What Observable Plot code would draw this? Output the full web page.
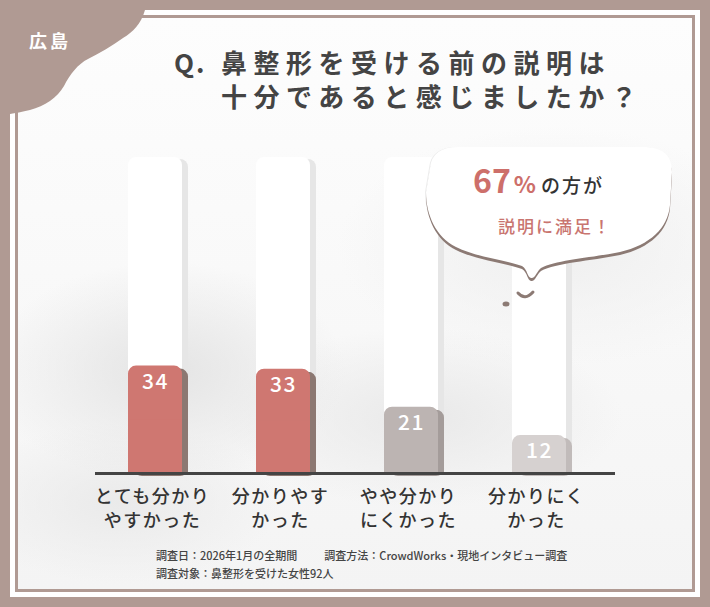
<!DOCTYPE html>
<html><head><meta charset="utf-8">
<script src="https://cdn.jsdelivr.net/npm/d3@7"></script>
<script src="https://cdn.jsdelivr.net/npm/@observablehq/plot@0.6"></script>
<style>
html,body{margin:0;padding:0;}
body{width:710px;height:607px;overflow:hidden;font-family:"Noto Sans CJK JP","Noto Sans",sans-serif;}
#wrap{position:relative;width:710px;height:607px;background:#b09a93;}
#white{position:absolute;left:10px;top:10px;right:10px;bottom:10px;background:#fff;}
#panel{position:absolute;left:15px;top:15px;right:15px;bottom:15px;border:3px solid #b09a93;
  background:
   radial-gradient(ellipse 180px 110px at 22% 62%, #e4e4e4, rgba(240,240,240,0) 100%),
   radial-gradient(ellipse 200px 90px at 60% 70%, #e9e9e9, rgba(240,240,240,0) 100%),
   radial-gradient(ellipse 160px 80px at 15% 85%, #eaeaea, rgba(240,240,240,0) 100%),
   radial-gradient(ellipse 220px 120px at 80% 40%, #efefef, rgba(240,240,240,0) 100%),
   linear-gradient(#fdfdfd, #f4f4f4);}
#chart{position:absolute;left:0;top:0;}
#deco{position:absolute;left:0;top:0;}
.title{position:absolute;font-size:26px;font-weight:700;color:#444;letter-spacing:6.5px;white-space:nowrap;line-height:34px;}
#foot{position:absolute;left:156px;top:546px;font-size:11px;line-height:18px;color:#444;font-weight:500;white-space:nowrap;}
</style>
</head><body>
<div id="wrap">
  <div id="white"></div>
  <div id="panel"></div>
  <div id="chart"></div>
  <svg id="deco" width="710" height="607"></svg>
  <div class="title" style="left:174px;top:45px;letter-spacing:2px;">Q.</div>
  <div class="title" style="left:221px;top:45px;">鼻整形を受ける前の説明は</div>
  <div class="title" style="left:221px;top:79px;">十分であると感じましたか？</div>
  <div id="foot"></div>
</div>
<script>
// ---- data ----
const categories = ["とても分かりやすかった", "分かりやすかった", "やや分かりにくかった", "分かりにくかった"];
const tickLine1 = ["とても分かり", "分かりやす", "やや分かり", "分かりにく"];
const tickLine2 = ["やすかった", "かった", "にくかった", "かった"];
const values = [34, 33, 21, 12];
const fullScale = 100;
const regionLabel = "広島";
const bubbleValue = "67";
const bubbleUnit = "%";
const bubbleText1 = "の方が";
const bubbleText2 = "説明に満足！";
const footLine1a = "調査日：2026年1月の全期間";
const footLine1b = "調査方法：CrowdWorks・現地インタビュー調査";
const footLine2 = "調査対象：鼻整形を受けた女性92人";

// ---- styles ----
const barFill = ["#cf7771", "#cf7771", "#bcb4b2", "#d6d1d0"];
const barShadow = ["#8c7872", "#8c7872", "#a49c9a", "#c1bbba"];

const data = categories.map((c, i) => ({cat: c, l1: tickLine1[i], l2: tickLine2[i], value: values[i], full: fullScale, i}));

const chart = Plot.plot({
  width: 710,
  height: 607,
  marginTop: 157,
  marginBottom: 134,
  marginLeft: 95,
  marginRight: 95,
  x: {domain: categories, range: [126, 567], paddingInner: 0.58, paddingOuter: 0, axis: null},
  y: {domain: [0, fullScale], axis: null},
  color: {type: "identity"},
  style: {background: "transparent", fontFamily: "'Noto Sans CJK JP', 'Noto Sans', sans-serif", overflow: "visible"},
  marks: [
    // track shadow + track
    Plot.barY(data, {x: "cat", y1: 0, y2: "full", fill: "#e6e6e6", rx: 8, dx: 6, dy: 2}),
    Plot.barY(data, {x: "cat", y1: 0, y2: d => d.full / 2, fill: "#e6e6e6", dx: 6}),
    Plot.barY(data, {x: "cat", y1: 0, y2: "full", fill: "#ffffff", rx: 8}),
    Plot.barY(data, {x: "cat", y1: 0, y2: d => d.full / 2, fill: "#ffffff"}),
    // bar shadow
    Plot.barY(data, {x: "cat", y1: 0, y2: "value", fill: d => barShadow[d.i], rx: 8, dx: 6, dy: 3}),
    Plot.barY(data, {x: "cat", y1: 0, y2: d => d.value / 2, fill: d => barShadow[d.i], dx: 6}),
    // bars
    Plot.barY(data, {x: "cat", y1: 0, y2: "value", fill: d => barFill[d.i], rx: 8}),
    Plot.barY(data, {x: "cat", y1: 0, y2: d => d.value / 2, fill: d => barFill[d.i]}),
    // baseline
    Plot.ruleY([0], {stroke: "#444", strokeWidth: 3}),
    // values
    Plot.text(data, {x: "cat", y: "value", text: d => String(d.value), dy: 16, fill: "#ffffff", fontSize: 21, fontWeight: 500, lineAnchor: "middle"}),
    // tick labels (two lines)
    Plot.text(data, {x: "cat", y: 0, text: "l1", dy: 24, dx: -3, fill: "#333", fontSize: 18, fontWeight: 500, lineAnchor: "middle"}),
    Plot.text(data, {x: "cat", y: 0, text: "l2", dy: 48, dx: -3, fill: "#333", fontSize: 18, fontWeight: 500, lineAnchor: "middle"})
  ]
});
d3.select(chart).selectAll("text").style("letter-spacing", "1.5px");
document.getElementById("chart").appendChild(chart);

// ---- decorations ----
const deco = d3.select("#deco");
deco.append("path")
  .attr("d", "M0,0 L145,0 L145,10 C141,24 133,32 123,38 C112,46 100,53 88,59 C78,64 70,74 64,86 C57,98 45,106 30,110 C22,112 15,113 10,114 L0,114 Z")
  .attr("fill", "#b09a93");
deco.append("text").attr("x", 50).attr("y", 48).attr("text-anchor", "middle")
  .attr("font-size", 18).attr("font-weight", 700).attr("fill", "#fff").attr("letter-spacing", "3px")
  .attr("font-family", "'Noto Sans CJK JP', sans-serif").text(regionLabel);

const bubble = "M430,168 Q432,147 458,147 L646,147 Q672,148 672,172 L670,205 C668,228 650,245 620,252 C590,258 556,260 541,268 C537,271 535,279 531,278 C527,277 528,270 522,266 C505,260 476,257 456,247 C436,237 426,215 426,192 Z";
deco.append("path").attr("d", bubble).attr("fill", "#ececec").attr("transform", "translate(-1,0)");
deco.append("path").attr("d", bubble).attr("fill", "#8c7a74").attr("transform", "translate(0,3)");
deco.append("path").attr("d", bubble).attr("fill", "#ffffff");
deco.append("path").attr("d", "M518,293 Q525,301 533,292").attr("fill", "none").attr("stroke", "#8c7a74").attr("stroke-width", 3).attr("stroke-linecap", "round");
deco.append("ellipse").attr("cx", 506).attr("cy", 304).attr("rx", 3.5).attr("ry", 2.5).attr("fill", "#8c7a74");

const t1 = deco.append("text").attr("x", 473).attr("y", 193).attr("font-family", "'Noto Sans CJK JP', sans-serif");
t1.append("tspan").attr("font-size", 32).attr("font-weight", 700).attr("fill", "#cd6f6a").text(bubbleValue);
t1.append("tspan").attr("dx", 3).attr("font-size", 23).attr("font-weight", 700).attr("fill", "#cd6f6a").text(bubbleUnit);
t1.append("tspan").attr("dx", 5).attr("font-size", 19).attr("font-weight", 500).attr("fill", "#333").attr("letter-spacing", "2px").text(bubbleText1);
deco.append("text").attr("x", 555).attr("y", 233).attr("text-anchor", "middle")
  .attr("font-family", "'Noto Sans CJK JP', sans-serif").attr("font-size", 17).attr("font-weight", 500)
  .attr("fill", "#c97570").attr("letter-spacing", "2px").text(bubbleText2);

// ---- footer ----
const foot = document.getElementById("foot");
foot.innerHTML = "";
const l1 = document.createElement("div");
const s1 = document.createElement("span"); s1.textContent = footLine1a;
const s2 = document.createElement("span"); s2.textContent = footLine1b; s2.style.marginLeft = "27px";
l1.appendChild(s1); l1.appendChild(s2);
const l2 = document.createElement("div"); l2.textContent = footLine2;
foot.appendChild(l1); foot.appendChild(l2);
</script>
</body></html>
